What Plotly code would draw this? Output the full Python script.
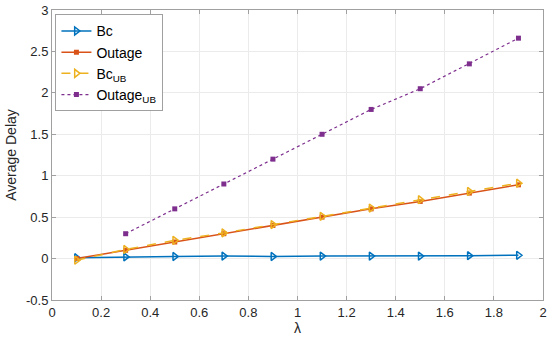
import plotly.graph_objects as go

lam = [0.1, 0.3, 0.5, 0.7, 0.9, 1.1, 1.3, 1.5, 1.7, 1.9]
bc = [0.01, 0.02, 0.025, 0.03, 0.025, 0.03, 0.03, 0.03, 0.035, 0.04]
outage = [0.0, 0.1, 0.2, 0.3, 0.4, 0.5, 0.6, 0.69, 0.79, 0.89]
bc_ub = [-0.02, 0.11, 0.22, 0.31, 0.41, 0.51, 0.61, 0.71, 0.81, 0.91]
lam_oub = [0.3, 0.5, 0.7, 0.9, 1.1, 1.3, 1.5, 1.7, 1.9]
outage_ub = [0.3, 0.6, 0.9, 1.2, 1.5, 1.8, 2.05, 2.35, 2.66]

x_ticks = [0, 0.2, 0.4, 0.6, 0.8, 1, 1.2, 1.4, 1.6, 1.8, 2]
x_labels = ["0", "0.2", "0.4", "0.6", "0.8", "1", "1.2", "1.4", "1.6", "1.8", "2"]
y_ticks = [-0.5, 0, 0.5, 1, 1.5, 2, 2.5, 3]
y_labels = ["-0.5", "0", "0.5", "1", "1.5", "2", "2.5", "3"]

fig = go.Figure()
fig.add_trace(go.Scatter(x=lam, y=bc, name="Bc", mode="lines+markers",
                         line=dict(color="#0072BD", width=1.5),
                         marker=dict(symbol="triangle-right-open", size=7, color="#0072BD", line=dict(width=1.5))))
fig.add_trace(go.Scatter(x=lam, y=outage, name="Outage", mode="lines+markers",
                         line=dict(color="#D95319", width=1.5),
                         marker=dict(symbol="square", size=5, color="#D95319")))
fig.add_trace(go.Scatter(x=lam, y=bc_ub, name="Bc<sub>UB</sub>", mode="lines+markers",
                         line=dict(color="#EDB120", width=1.5, dash="dash"),
                         marker=dict(symbol="triangle-right-open", size=7, color="#EDB120", line=dict(width=1.5))))
fig.add_trace(go.Scatter(x=lam_oub, y=outage_ub, name="Outage<sub>UB</sub>", mode="lines+markers",
                         line=dict(color="#7E2F8E", width=1.2, dash="dot"),
                         marker=dict(symbol="square", size=5, color="#7E2F8E")))

axis_common = dict(showline=True, linecolor="#a0a0a0", linewidth=1, mirror="ticks",
                   ticks="inside", ticklen=4, tickcolor="#a0a0a0",
                   showgrid=True, gridcolor="#ebebeb", gridwidth=1, zeroline=False,
                   automargin=False, ticklabeloverflow="allow",
                   tickfont=dict(family="Liberation Sans, Arial", size=13, color="#262626"))

fig.update_layout(
    width=550, height=341,
    margin=dict(l=52, r=7, t=10, b=41),
    paper_bgcolor="white", plot_bgcolor="white",
    font=dict(family="Liberation Sans, Arial", size=13, color="#262626"),
    showlegend=True,
    legend=dict(x=0.007, y=0.985, xanchor="left", yanchor="top",
                bgcolor="white", bordercolor="#a0a0a0", borderwidth=1,
                font=dict(size=14, color="black"), tracegroupgap=0, itemwidth=30),
    xaxis=dict(range=[0, 2], tickvals=x_ticks, ticktext=x_labels,
               title=dict(text="λ", standoff=2, font=dict(size=14)), **axis_common),
    yaxis=dict(range=[-0.5, 3], tickvals=y_ticks, ticktext=y_labels,
               title=dict(text="Average Delay", standoff=6, font=dict(size=14)), **axis_common),
)

fig.write_html("out.html", config={"displayModeBar": False},
               post_script="document.body.style.margin='0';")
